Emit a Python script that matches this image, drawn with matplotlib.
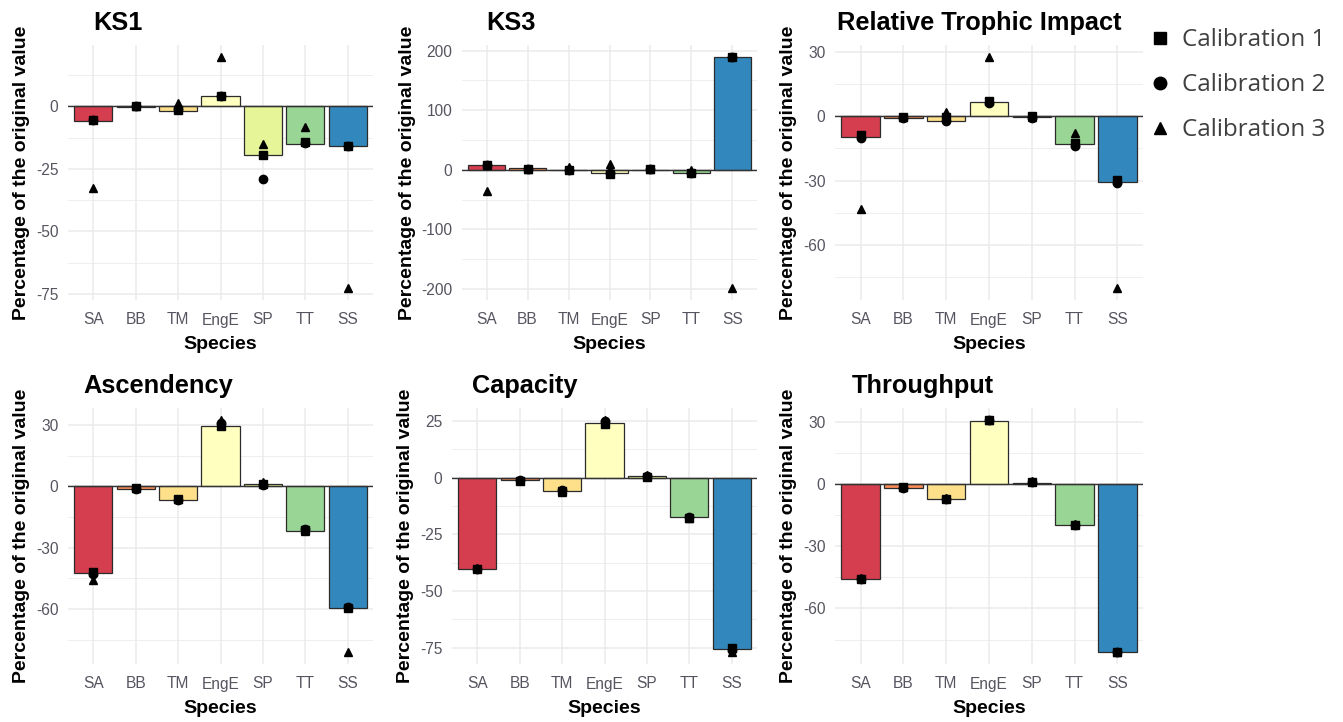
import matplotlib
matplotlib.use("Agg")
import matplotlib.pyplot as plt
from matplotlib.lines import Line2D
import numpy as np

species = ["SA", "BB", "TM", "EngE", "SP", "TT", "SS"]
colors = ["#D53E4F", "#FC8D59", "#FEE08B", "#FFFFBF", "#E6F598", "#99D594", "#3288BD"]

titles = ["KS1", "KS3", "Relative Trophic Impact", "Ascendency", "Capacity", "Throughput"]

ks1_bar = [-5.8, -0.2, -1.7, 4.1, -19.6, -15.0, -15.9]
ks1_cal1 = [-5.3, 0.0, -1.6, 4.0, -19.3, -14.2, -16.0]
ks1_cal2 = [-5.5, 0.0, -1.0, 4.2, -29.2, -14.5, -16.0]
ks1_cal3 = [-32.5, 0.0, 1.5, 19.9, -15.1, -8.2, -72.8]

ks3_bar = [7.8, 2.5, -1.0, -6.0, 0.0, -6.0, 190.0]
ks3_cal1 = [8.0, 2.0, 0.0, -7.0, 1.0, -5.0, 190.0]
ks3_cal2 = [7.5, 2.0, 0.0, -6.0, 1.0, -5.5, 189.0]
ks3_cal3 = [-36.0, 2.0, 5.0, 9.0, 1.0, 0.5, -199.0]

rti_bar = [-9.7, -0.7, -2.3, 6.5, -0.3, -12.8, -30.8]
rti_cal1 = [-8.7, -0.5, -0.5, 7.3, 0.0, -12.5, -29.8]
rti_cal2 = [-10.0, -0.7, -2.3, 6.0, -0.8, -13.9, -31.0]
rti_cal3 = [-43.3, -0.5, 2.0, 27.8, -0.3, -7.6, -80.2]

asc_bar = [-42.6, -1.3, -6.5, 29.4, 1.1, -21.7, -59.4]
asc_cal1 = [-42.0, -1.0, -6.2, 29.7, 1.1, -21.5, -59.5]
asc_cal2 = [-43.0, -1.2, -6.5, 31.0, 0.8, -21.0, -59.0]
asc_cal3 = [-45.7, -0.8, -6.0, 32.6, 2.0, -22.0, -81.2]

cap_bar = [-40.4, -1.2, -5.8, 24.1, 0.5, -17.5, -75.5]
cap_cal1 = [-40.1, -1.6, -6.0, 23.6, 0.4, -17.8, -75.0]
cap_cal2 = [-40.4, -1.2, -5.6, 25.1, 0.6, -17.5, -76.0]
cap_cal3 = [-40.0, -1.0, -6.2, 25.5, 1.0, -18.0, -77.0]

thr_bar = [-45.9, -1.9, -7.0, 30.6, 0.8, -19.6, -81.2]
thr_cal1 = [-46.0, -1.5, -6.9, 31.0, 1.3, -19.5, -81.0]
thr_cal2 = [-45.8, -1.7, -7.0, 30.8, 1.0, -19.8, -81.2]
thr_cal3 = [-45.5, -1.2, -6.5, 31.2, 1.5, -19.0, -80.8]

panels = [
    (ks1_bar, ks1_cal1, ks1_cal2, ks1_cal3, 25),
    (ks3_bar, ks3_cal1, ks3_cal2, ks3_cal3, 100),
    (rti_bar, rti_cal1, rti_cal2, rti_cal3, 30),
    (asc_bar, asc_cal1, asc_cal2, asc_cal3, 30),
    (cap_bar, cap_cal1, cap_cal2, cap_cal3, 25),
    (thr_bar, thr_cal1, thr_cal2, thr_cal3, 30),
]

# panel boxes in pixels: left, top, right, bottom
boxes = [
    (68, 45, 373, 300), (462, 45, 757, 300), (835, 45, 1143, 300),
    (68, 408, 373, 664), (452, 408, 757, 664), (835, 408, 1143, 664),
]

W, H = 1343, 722
plt.rcParams["font.family"] = ["Liberation Sans", "DejaVu Sans"]
fig = plt.figure(figsize=(W / 100, H / 100), dpi=100)

x = np.arange(len(species))
axes = []
title_texts = []
for (bar, c1, c2, c3, step), (l, t, r, b), title in zip(panels, boxes, titles):
    ax = fig.add_axes([l / W, 1 - b / H, (r - l) / W, (b - t) / H])
    axes.append(ax)
    allv = np.concatenate([bar, c1, c2, c3, [0]])
    lo, hi = allv.min(), allv.max()
    pad = (hi - lo) * 0.05

    ax.bar(x, bar, width=0.9, color=colors, edgecolor="#2b2b2b", linewidth=0.9, zorder=2)
    ax.axhline(0, color="#333333", linewidth=1.0, zorder=3)
    ax.plot(x, c1, "s", color="black", markersize=6, linestyle="none", zorder=4)
    ax.plot(x, c2, "o", color="black", markersize=6, linestyle="none", zorder=4)
    ax.plot(x, c3, "^", color="black", markersize=6, linestyle="none", zorder=4)

    major = np.arange(-300, 301, step)
    minor = np.arange(-300 - step / 2, 301, step)
    ax.set_yticks(major)
    ax.set_yticks(minor, minor=True)
    ax.set_yticklabels([f"{v:g}" for v in major])
    ax.set_ylim(lo - pad, hi + pad)
    ax.set_xlim(-0.6, len(species) - 0.4)
    ax.set_xticks(x)
    ax.set_xticklabels(species)

    ax.grid(True, which="major", color="#EBEBEB", linewidth=1.1, zorder=0)
    ax.grid(True, which="minor", axis="y", color="#EBEBEB", linewidth=0.6, zorder=0)
    ax.set_axisbelow(True)
    for s in ax.spines.values():
        s.set_visible(False)
    ax.tick_params(axis="both", which="both", length=0, labelsize=11.2, labelcolor="#555560")
    ax.tick_params(axis="y", pad=7)
    ax.tick_params(axis="x", pad=9)
    ax.set_xlabel("Species", fontsize=14, fontweight="bold", labelpad=6)
    ax.set_ylabel("Percentage of the original value", fontsize=14, fontweight="bold", labelpad=4)
    tt = ax.text(0, 1 + 15 / (b - t), title, transform=ax.transAxes, fontsize=18.3,
                 fontweight="bold", ha="left", va="baseline")
    title_texts.append(tt)

# ggplot-style hjust = 0.1 for the titles
fig.canvas.draw()
renderer = fig.canvas.get_renderer()
for ax, tt in zip(axes, title_texts):
    tw = tt.get_window_extent(renderer).width
    axw = ax.get_window_extent(renderer).width
    tt.set_x(0.1 * (1 - tw / axw))

handles = [
    Line2D([], [], marker="s", color="black", linestyle="none", markersize=9),
    Line2D([], [], marker="o", color="black", linestyle="none", markersize=9),
    Line2D([], [], marker="^", color="black", linestyle="none", markersize=9),
]
fig.legend(handles, ["Calibration 1", "Calibration 2", "Calibration 3"],
           loc="upper left", bbox_to_anchor=(1135 / W, 1 - 16 / H), frameon=False,
           prop={"family": "Open Sans", "size": 17.4}, labelcolor="#404040",
           labelspacing=0.87, handletextpad=0.35, handlelength=1.1, borderpad=0)

fig.savefig("out.png", dpi=100)
